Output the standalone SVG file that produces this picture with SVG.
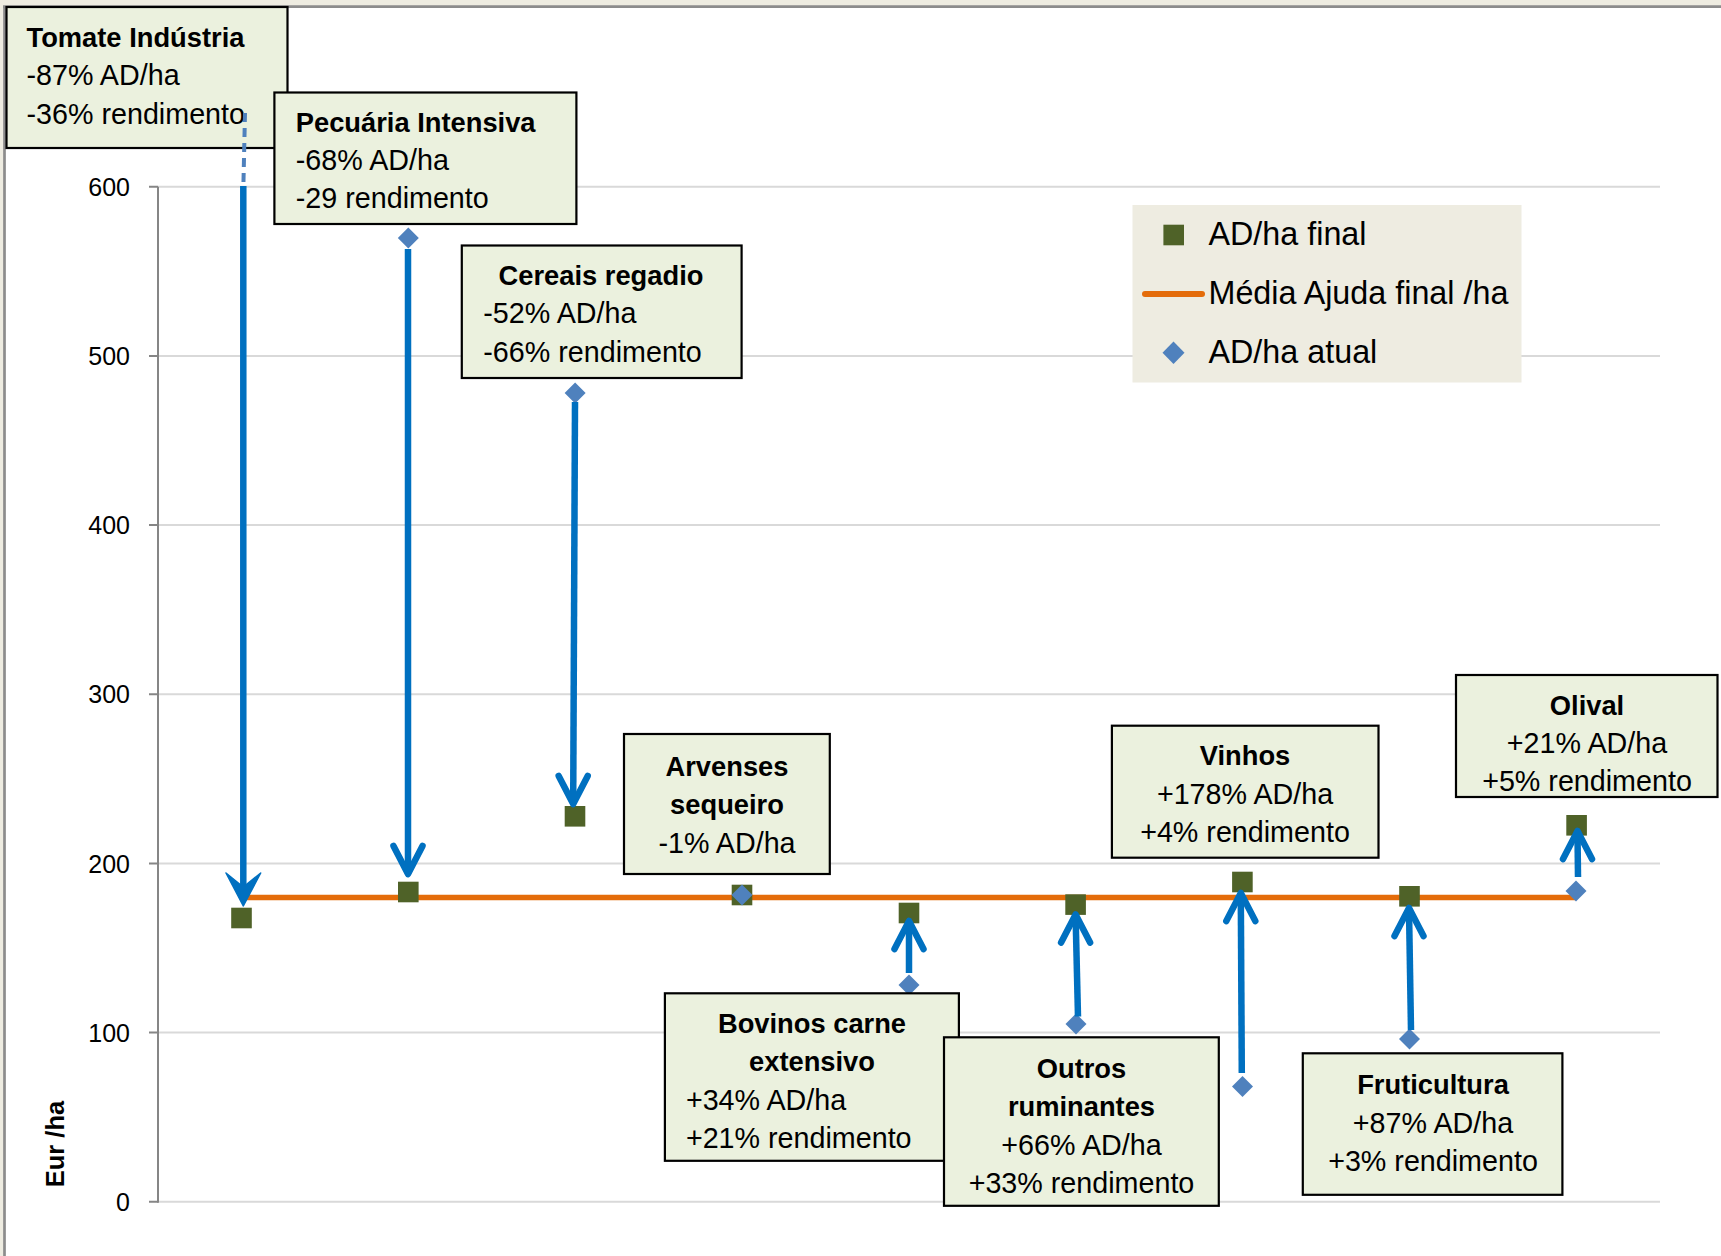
<svg xmlns="http://www.w3.org/2000/svg" width="1721" height="1256" viewBox="0 0 1721 1256">
<style>
.grid{stroke:#D9D9D9;stroke-width:2;fill:none}
.axis{stroke:#868686;stroke-width:2;fill:none}
.ylab{font-family:"Liberation Sans",Arial,sans-serif;font-size:25px;fill:#000;text-anchor:end}
.box{fill:#EBF1DE;stroke:#000;stroke-width:2.2}
.t{font-family:"Liberation Sans",Arial,sans-serif;font-size:28.7px;fill:#000}
.b{font-weight:bold;font-size:27.3px}
.c{text-anchor:middle}
.leg{font-family:"Liberation Sans",Arial,sans-serif;font-size:32.3px;fill:#000}
.shaft{stroke:#0070C0;stroke-width:6.5;fill:none;stroke-linecap:butt}
.head{stroke:#0070C0;stroke-width:6.5;fill:none;stroke-linecap:round;stroke-linejoin:round}
</style>
<defs>
<rect id="sq" x="-10.3" y="-10.3" width="20.6" height="20.6" fill="#4F6228"/>
<path id="dm" d="M0,-10.5 L10.5,0 L0,10.5 L-10.5,0Z" fill="#4F81BD"/>
</defs>
<rect x="0" y="0" width="1721" height="1256" fill="#EEECE1"/>
<rect x="5" y="7" width="1716" height="1249" fill="#FFFFFF"/>
<line x1="3" y1="6.7" x2="1721" y2="6.7" stroke="#8C8C8C" stroke-width="2.7"/>
<line x1="4.5" y1="6" x2="4.5" y2="1256" stroke="#8C8C8C" stroke-width="2.7"/>
<g id="gridlines">
<line class="grid" x1="158" y1="186.7" x2="1660" y2="186.7"/>
<line class="grid" x1="158" y1="355.9" x2="1660" y2="355.9"/>
<line class="grid" x1="158" y1="525.1" x2="1660" y2="525.1"/>
<line class="grid" x1="158" y1="694.3" x2="1660" y2="694.3"/>
<line class="grid" x1="158" y1="863.5" x2="1660" y2="863.5"/>
<line class="grid" x1="158" y1="1032.6" x2="1660" y2="1032.6"/>
<line class="grid" x1="158" y1="1201.8" x2="1660" y2="1201.8"/>
</g>
<g id="y-axis">
<line class="axis" x1="158" y1="186.7" x2="158" y2="1202.8"/>
<path class="axis" d="M149,186.7H158M149,355.9H158M149,525.1H158M149,694.3H158M149,863.5H158M149,1032.6H158M149,1201.8H158"/>
<text class="ylab" x="130" y="195.7">600</text>
<text class="ylab" x="130" y="364.9">500</text>
<text class="ylab" x="130" y="534.1">400</text>
<text class="ylab" x="130" y="703.3">300</text>
<text class="ylab" x="130" y="872.5">200</text>
<text class="ylab" x="130" y="1041.6">100</text>
<text class="ylab" x="130" y="1210.8">0</text>
<text transform="translate(63.5,1144) rotate(-90)" font-family="Liberation Sans, Arial, sans-serif" font-size="25.5" font-weight="bold" text-anchor="middle">Eur /ha</text>
</g>
<g id="media-line">
<line x1="241.5" y1="897.5" x2="1576" y2="897.5" stroke="#E46C0A" stroke-width="5.5"/>
</g>
<g id="final-markers">
<use href="#sq" x="241.5" y="918"/>
<use href="#sq" x="408.3" y="892"/>
<use href="#sq" x="575" y="816.3"/>
<use href="#sq" x="742" y="895"/>
<use href="#sq" x="909" y="913"/>
<use href="#sq" x="1075.6" y="904.6"/>
<use href="#sq" x="1242.4" y="882"/>
<use href="#sq" x="1409.5" y="896.3"/>
<use href="#sq" x="1576.6" y="825.3"/>
</g>
<g id="atual-markers">
<use href="#dm" x="408.3" y="238"/>
<use href="#dm" x="575.1" y="393"/>
<use href="#dm" x="742" y="895"/>
<use href="#dm" x="909" y="985"/>
<use href="#dm" x="1076" y="1024"/>
<use href="#dm" x="1242.5" y="1086.6"/>
<use href="#dm" x="1409.5" y="1039"/>
<use href="#dm" x="1576" y="891"/>
</g>
<g id="legend">
<rect x="1132.5" y="205" width="389" height="177.5" fill="#EEECE1"/>
<use href="#sq" x="1173.7" y="235"/>
<text class="leg" x="1208.5" y="245">AD/ha final</text>
<line x1="1145" y1="294" x2="1202" y2="294" stroke="#E46C0A" stroke-width="6" stroke-linecap="round"/>
<text class="leg" x="1208.5" y="304">Média Ajuda final /ha</text>
<path d="M1173.5,341.5 L1184.5,352.8 L1173.5,364 L1162.5,352.8Z" fill="#4F81BD"/>
<text class="leg" x="1208.5" y="363">AD/ha atual</text>
</g>
<g id="node-tomate">
<rect class="box" x="6.5" y="7" width="281" height="141"/>
<text class="t b" x="26.5" y="47">Tomate Indústria</text>
<text class="t" x="26.5" y="85.3">-87% AD/ha</text>
<text class="t" x="26.5" y="123.6">-36% rendimento</text>
</g>
<g id="node-pecuaria">
<rect class="box" x="274.4" y="92.5" width="302" height="131.5"/>
<text class="t b" x="295.8" y="131.5">Pecuária Intensiva</text>
<text class="t" x="295.8" y="169.8">-68% AD/ha</text>
<text class="t" x="295.8" y="208.1">-29 rendimento</text>
</g>
<g id="node-cereais">
<rect class="box" x="461.8" y="245.5" width="279.8" height="132.5"/>
<text class="t b c" x="601" y="285">Cereais regadio</text>
<text class="t" x="483.3" y="323.3">-52% AD/ha</text>
<text class="t" x="483.3" y="361.6">-66% rendimento</text>
</g>
<g id="node-arvenses">
<rect class="box" x="624" y="734" width="205.8" height="140"/>
<text class="t b c" x="727" y="776">Arvenses</text>
<text class="t b c" x="727" y="814.3">sequeiro</text>
<text class="t c" x="727" y="852.6">-1% AD/ha</text>
</g>
<g id="node-vinhos">
<rect class="box" x="1111.9" y="725.7" width="266.6" height="132"/>
<text class="t b c" x="1245" y="765">Vinhos</text>
<text class="t c" x="1245" y="803.5">+178% AD/ha</text>
<text class="t c" x="1245" y="842">+4% rendimento</text>
</g>
<g id="node-olival">
<rect class="box" x="1456" y="675" width="261.5" height="122"/>
<text class="t b c" x="1587" y="714.5">Olival</text>
<text class="t c" x="1587" y="752.8">+21% AD/ha</text>
<text class="t c" x="1587" y="791">+5% rendimento</text>
</g>
<g id="node-bovinos">
<rect class="box" x="664.9" y="993.3" width="294" height="167.5"/>
<text class="t b c" x="812" y="1033">Bovinos carne</text>
<text class="t b c" x="812" y="1071.3">extensivo</text>
<text class="t" x="685.9" y="1109.6">+34% AD/ha</text>
<text class="t" x="685.9" y="1148">+21% rendimento</text>
</g>
<g id="node-outros">
<rect class="box" x="944" y="1037.3" width="274.8" height="168.5"/>
<text class="t b c" x="1081.5" y="1078">Outros</text>
<text class="t b c" x="1081.5" y="1116.3">ruminantes</text>
<text class="t c" x="1081.5" y="1154.6">+66% AD/ha</text>
<text class="t c" x="1081.5" y="1193">+33% rendimento</text>
</g>
<g id="node-fruticultura">
<rect class="box" x="1302.8" y="1053.3" width="259.6" height="141.5"/>
<text class="t b c" x="1433" y="1094">Fruticultura</text>
<text class="t c" x="1433" y="1132.5">+87% AD/ha</text>
<text class="t c" x="1433" y="1171">+3% rendimento</text>
</g>
<g id="connectors">
<line x1="245" y1="113" x2="243.4" y2="185" stroke="#4F81BD" stroke-width="4" stroke-dasharray="9,6"/>
<line class="shaft" x1="243.3" y1="186" x2="243.3" y2="890"/>
<polygon points="226,873 243.3,887 260.7,873 243.3,906" fill="#0070C0" stroke="#0070C0" stroke-width="1.5" stroke-linejoin="round"/>
<line class="shaft" x1="408" y1="249" x2="408" y2="872"/>
<polyline class="head" points="393.5,846 408,874 422.5,846"/>
<line class="shaft" x1="575" y1="402" x2="573.2" y2="802"/>
<polyline class="head" points="558.7,776 573.2,804 587.7,776"/>
<line class="shaft" x1="909" y1="973" x2="909" y2="923"/>
<polyline class="head" points="894.5,949 909,921 923.5,949"/>
<line class="shaft" x1="1078" y1="1016.5" x2="1075.6" y2="916"/>
<polyline class="head" points="1061.1,942.5 1075.6,914.5 1090.1,942.5"/>
<line class="shaft" x1="1241.8" y1="1073" x2="1240.8" y2="895"/>
<polyline class="head" points="1226.3,921 1240.8,893 1255.3,921"/>
<line class="shaft" x1="1411" y1="1030" x2="1409" y2="910"/>
<polyline class="head" points="1394.5,936 1409,908 1423.5,936"/>
<line class="shaft" x1="1578" y1="877" x2="1577.5" y2="833"/>
<polyline class="head" points="1563,859 1577.5,831 1592,859"/>
</g>
</svg>
